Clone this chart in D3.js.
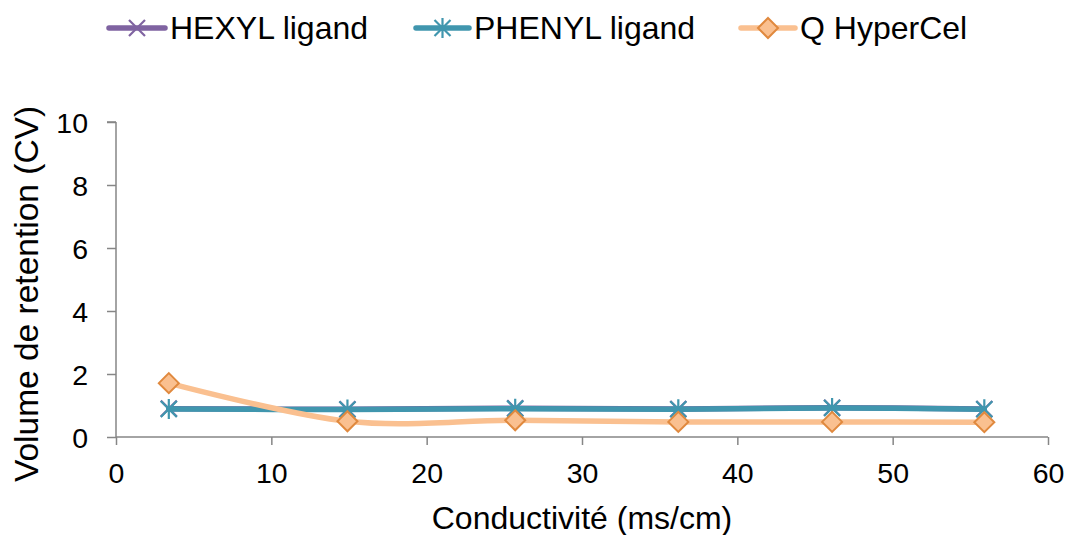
<!DOCTYPE html>
<html><head><meta charset="utf-8">
<script src="https://cdn.jsdelivr.net/npm/d3@7"></script>
<style>body{margin:0;background:#fff}svg{display:block}text{font-family:"Liberation Sans",Arial,sans-serif}</style>
</head><body>
<svg id="c" width="1070" height="535"></svg>
<script>
const conductivity = [3.4, 14.9, 25.7, 36.2, 46.1, 55.9];
const hexyl = [0.9, 0.88, 0.91, 0.89, 0.93, 0.89];
const phenyl = [0.89, 0.87, 0.9, 0.88, 0.92, 0.88];
const qHyperCel = [1.71, 0.5, 0.53, 0.48, 0.48, 0.47];
const seriesNames = ["HEXYL ligand", "PHENYL ligand", "Q HyperCel"];
const xTicks = [0, 10, 20, 30, 40, 50, 60];
const yTicks = [0, 2, 4, 6, 8, 10];

const svg = d3.select("#c");
const x = d3.scaleLinear().domain([0, 60]).range([116, 1048]);
const y = d3.scaleLinear().domain([0, 10]).range([437, 122]);
const axisColor = "#868686";
const FONT = '"Liberation Sans",Arial,sans-serif';

// axes
const gx = svg.append("g").attr("transform", `translate(0,${y(0)})`)
  .call(d3.axisBottom(x).tickValues(xTicks).tickSize(8).tickPadding(8).tickFormat(d3.format("d")));
const gy = svg.append("g").attr("transform", `translate(${x(0)},0)`)
  .call(d3.axisLeft(y).tickValues(yTicks).tickSize(9).tickPadding(19).tickFormat(d3.format("d")));
[gx, gy].forEach(g => {
  g.attr("font-size", null).attr("font-family", null);
  g.select(".domain").attr("stroke", axisColor).attr("stroke-width", 1.5);
  g.selectAll(".tick line").attr("stroke", axisColor).attr("stroke-width", 1.5);
  g.selectAll(".tick text").attr("fill", "#000").style("font-size", "28.5px").style("font-family", FONT);
});
gx.select(".domain").attr("d", `M${x(0)},0H${x(60)}`);
gy.select(".domain").attr("d", `M0,${y(0)}V${y(10)}M-9,${y(10)}H0`);
gx.selectAll(".tick text").attr("dy", null).attr("y", 46);
gy.selectAll(".tick text").attr("dy", "0.36em");

// axis titles
svg.append("text").attr("x", 582).attr("y", 529).attr("text-anchor", "middle")
  .style("font-size", "32px").text("Conductivité (ms/cm)");
svg.append("text").attr("transform", "translate(38,294) rotate(-90)").attr("text-anchor", "middle")
  .style("font-size", "33.5px").text("Volume de retention (CV)");

const series = [
  {name: seriesNames[0], values: hexyl, line: "#7F63A1", marker: "x", mstroke: "#7F63A1", mfill: "none"},
  {name: seriesNames[1], values: phenyl, line: "#4096AE", marker: "star", mstroke: "#4096AE", mfill: "none"},
  {name: seriesNames[2], values: qHyperCel, line: "#FAC090", marker: "diamond", mstroke: "#E0893E", mfill: "#FAC090"}
];

const lineGen = d3.line().x(d => x(d[0])).y(d => y(d[1])).curve(d3.curveCatmullRom.alpha(0));

function drawMarker(g, type, cx, cy, s) {
  const r = 10;
  if (type === "diamond") {
    g.append("path").attr("d", `M${cx},${cy-r}L${cx+r},${cy}L${cx},${cy+r}L${cx-r},${cy}Z`)
      .attr("fill", s.mfill).attr("stroke", s.mstroke).attr("stroke-width", 2);
  } else if (type === "x") {
    g.append("path").attr("d", `M${cx-8},${cy-8}L${cx+8},${cy+8}M${cx-8},${cy+8}L${cx+8},${cy-8}`)
      .attr("stroke", s.mstroke).attr("stroke-width", 2.2).attr("fill", "none");
  } else {
    g.append("path").attr("d", `M${cx-8},${cy-8}L${cx+8},${cy+8}M${cx-8},${cy+8}L${cx+8},${cy-8}M${cx},${cy-10}V${cy+10}`)
      .attr("stroke", s.mstroke).attr("stroke-width", 2.2).attr("fill", "none");
  }
}

series.forEach(s => {
  const pts = conductivity.map((c, i) => [c, s.values[i]]);
  const g = svg.append("g");
  g.append("path").attr("d", lineGen(pts)).attr("fill", "none").attr("stroke", s.line)
    .attr("stroke-width", 5.5).attr("stroke-linecap", "round").attr("stroke-linejoin", "round");
  pts.forEach(p => drawMarker(g, s.marker, x(p[0]), y(p[1]), s));
});

// legend
const legendPos = [{x1: 109, tx: 170}, {x1: 416, tx: 474}, {x1: 741, tx: 800}];
series.forEach((s, i) => {
  const lp = legendPos[i];
  const g = svg.append("g");
  const x2 = lp.tx - 5, cy = 28;
  g.append("line").attr("x1", lp.x1).attr("x2", x2).attr("y1", cy).attr("y2", cy)
    .attr("stroke", s.line).attr("stroke-width", 5.5).attr("stroke-linecap", "round");
  drawMarker(g, s.marker, (lp.x1 + x2) / 2, cy, s);
  g.append("text").attr("x", lp.tx).attr("y", cy + 11).style("font-size", "32px").text(s.name);
});
</script>
</body></html>
